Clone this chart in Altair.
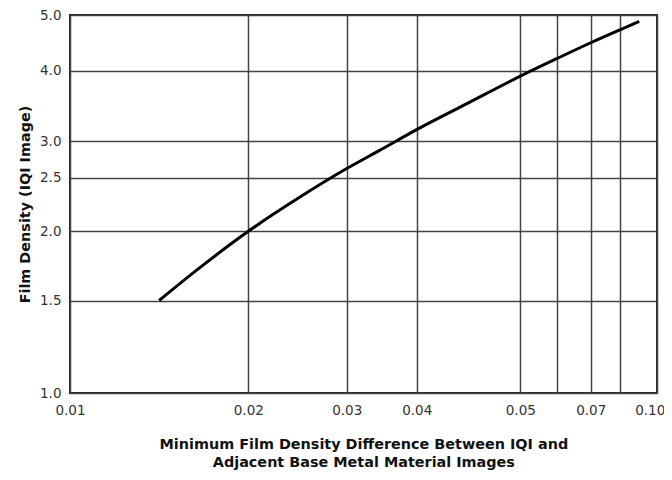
import altair as alt
import pandas as pd

# Curve (minimum density difference vs film density)
density_diff = [0.0150, 0.0173, 0.0200, 0.02525, 0.0300, 0.03476, 0.0400,
                0.0450, 0.0500, 0.0600, 0.0700, 0.0800, 0.0905]
film_density = [1.50, 1.739, 2.00, 2.318, 2.623, 2.877, 3.163,
                3.542, 3.92, 4.218, 4.50, 4.733, 4.883]

x_ticks = [0.01, 0.02, 0.03, 0.04, 0.05, 0.06, 0.07, 0.08, 0.10]
x_hidden = [0.06, 0.08]
y_ticks = [1.0, 1.5, 2.0, 2.5, 3.0, 4.0, 5.0]

df = pd.DataFrame({"diff": density_diff, "density": film_density})

W, H = 587, 378
x_range = [0, 178.3, 276.7, 346.7, 450.3, 487.3, 520.7, 550, 586.7]
y_range = [378, 285.5, 216.3, 162.5, 126.2, 55.5, 0]

hidden_expr = " || ".join(f"datum.value == {v}" for v in x_hidden)

chart = alt.Chart(df).mark_line(
    color="black", strokeWidth=3, interpolate="monotone"
).encode(
    x=alt.X("diff:Q",
            scale=alt.Scale(type="linear", domain=x_ticks, range=x_range,
                            nice=False, zero=False),
            axis=alt.Axis(values=x_ticks,
                          labelExpr=f"({hidden_expr}) ? '' : format(datum.value, '.2f')",
                          labelFlush=False,
                          labelOffset={"condition": {"test": "datum.value >= 0.1", "value": -7},
                                       "value": 0},
                          title=["Minimum Film Density Difference Between IQI and",
                                 "Adjacent Base Metal Material Images"],
                          titlePadding=21, labelPadding=10)),
    y=alt.Y("density:Q",
            scale=alt.Scale(type="linear", domain=y_ticks, range=y_range,
                            nice=False, zero=False),
            axis=alt.Axis(values=y_ticks, format=".1f",
                          title="Film Density (IQI Image)",
                          titlePadding=7, labelPadding=9)),
).properties(
    width=W, height=H,
    autosize=alt.AutoSizeParams(type="none"),
    padding={"left": 62, "top": 7, "right": 7, "bottom": 79},
).configure_view(
    stroke="#222222", strokeWidth=2
).configure_axis(
    grid=True, gridColor="#444444", gridWidth=1.5, gridOpacity=1,
    domain=False, ticks=False,
    labelFont="DejaVu Sans", labelFontSize=13.5, labelColor="#333333",
    titleFont="DejaVu Sans", titleFontSize=14.4, titleFontWeight="bold",
    titleColor="#111111", titleLineHeight=18,
)

chart.save("out.html", embed_options={"renderer": "svg", "actions": False})
